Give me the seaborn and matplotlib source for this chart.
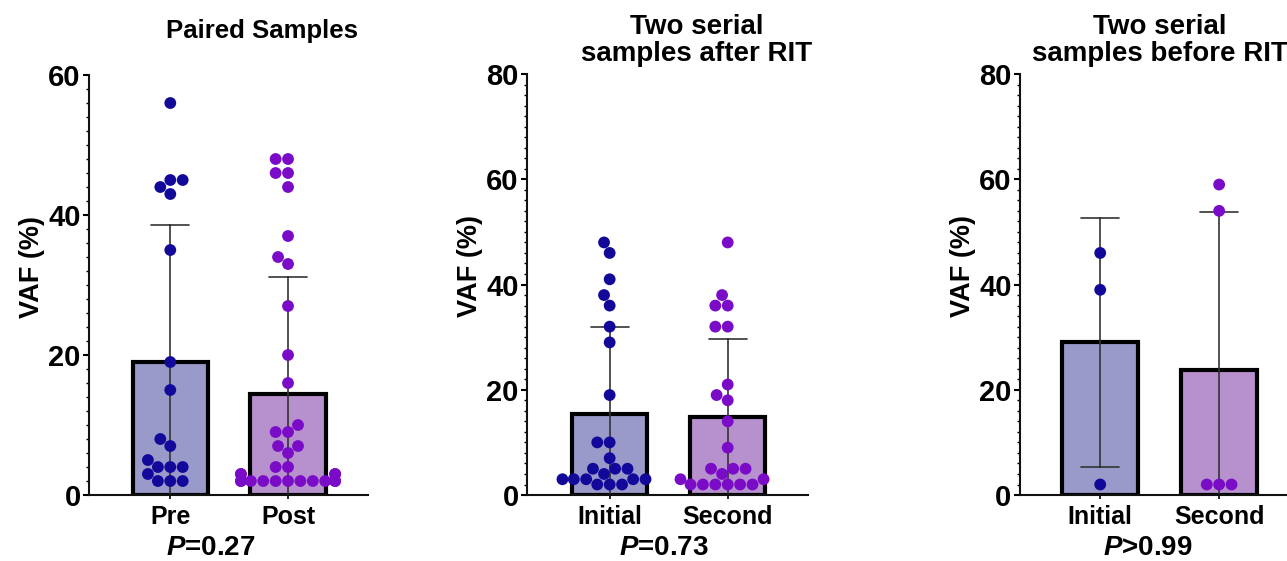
import pandas as pd
import matplotlib.pyplot as plt
from matplotlib.ticker import MultipleLocator
import seaborn as sns

# VAF (%) values
pre = [56, 45, 45, 44, 43, 35, 19, 15, 8, 7, 5, 4, 4, 4, 3, 2, 2, 2]
post = [48, 48, 46, 46, 44, 37, 34, 33, 27, 20, 16, 10, 9, 9, 7, 7, 6,
        4, 4, 3, 3, 3, 3, 2, 2, 2, 2, 2, 2, 2, 2, 2, 2, 2]
after_initial = [48, 46, 41, 38, 36, 32, 29, 19, 10, 10, 7, 5, 5, 5, 4,
                 3, 3, 3, 3, 3, 2, 2, 2]
after_second = [48, 38, 36, 36, 32, 32, 21, 19, 18, 14, 9, 5, 5, 5, 4,
                3, 3, 2, 2, 2, 2, 2, 2]
before_initial = [46, 39, 2]
before_second = [59, 54, 2, 2, 2]

titles = ["Paired Samples", "Two serial\nsamples after RIT", "Two serial\nsamples before RIT"]
groups = [["Pre", "Post"], ["Initial", "Second"], ["Initial", "Second"]]
pvals = [r"$P$=0.27", r"$P$=0.73", r"$P$>0.99"]
ymax = [60, 80, 80]
series = [(pre, post), (after_initial, after_second), (before_initial, before_second)]

bar_colors = ["#9191d2", "#b987d7"]
dot_colors = ["#12099a", "#7a0bc6"]

sns.set_style("ticks")
plt.rcParams["font.family"] = ["Liberation Sans", "DejaVu Sans"]
plt.rcParams["font.weight"] = "bold"
plt.rcParams["text.color"] = "black"
plt.rcParams["axes.labelcolor"] = "black"
plt.rcParams["xtick.color"] = "black"
plt.rcParams["ytick.color"] = "black"
plt.rcParams["mathtext.fontset"] = "custom"
plt.rcParams["mathtext.it"] = "Liberation Sans:italic:bold"
plt.rcParams["mathtext.rm"] = "Liberation Sans:bold"

fig = plt.figure(figsize=(12.87, 5.61), dpi=100)

# axes boxes in figure fractions
boxes = [[0.0692, 0.1176, 0.2168, 0.7487],
         [0.4095, 0.1176, 0.2183, 0.7504],
         [0.7925, 0.1176, 0.2176, 0.7504]]
title_x = [0.2036, 0.541, 0.901]
title_y = [0.966, 0.975, 0.975]
title_size = [18.5, 20, 20]
plab_x = [0.437, 0.488, 0.457]
xlims = [(-0.69, 1.68), (-0.70, 1.68), (-0.675, 1.68)]

for i in range(3):
    ax = fig.add_axes(boxes[i])
    a, b = series[i]
    df = pd.DataFrame({
        "group": [groups[i][0]] * len(a) + [groups[i][1]] * len(b),
        "vaf": a + b,
    })
    sns.barplot(data=df, x="group", y="vaf", hue="group", order=groups[i],
                palette=bar_colors, legend=False, errorbar="sd", capsize=0.32,
                width=0.64, edgecolor="black", linewidth=3,
                err_kws={"linewidth": 1.2, "color": "#333333"}, ax=ax)
    sns.swarmplot(data=df, x="group", y="vaf", hue="group", order=groups[i],
                  palette=dot_colors, legend=False, size=8.5, ax=ax)

    ax.set_ylim(0, ymax[i])
    ax.set_xlim(*xlims[i])
    ax.yaxis.set_major_locator(MultipleLocator(20))
    ax.yaxis.set_minor_locator(MultipleLocator(2))
    ax.tick_params(axis="y", which="major", labelsize=21, length=4, width=1.5, pad=2)
    ax.tick_params(axis="y", which="minor", length=2, width=1)
    ax.tick_params(axis="x", labelsize=18, length=3, width=1.2, pad=4)
    for lab in ax.get_yticklabels() + ax.get_xticklabels():
        lab.set_fontweight("bold")
    ax.set_ylabel("VAF (%)", fontsize=19.5, fontweight="bold")
    ax.yaxis.set_label_coords(-0.157, 0.544)
    ax.set_xlabel(pvals[i], fontsize=20, fontweight="bold")
    ax.xaxis.set_label_coords(plab_x[i], -0.095)
    sns.despine(ax=ax)
    for s in ["left", "bottom"]:
        ax.spines[s].set_linewidth(1.5)
        ax.spines[s].set_color("#111111")

    fig.text(title_x[i], title_y[i], titles[i], ha="center", va="top",
             fontsize=title_size[i], fontweight="bold", linespacing=1.05)

fig.savefig("out.png", dpi=100)
